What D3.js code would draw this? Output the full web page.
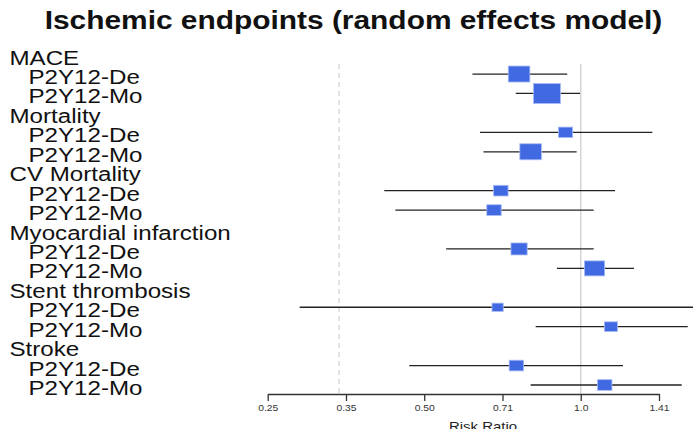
<!DOCTYPE html>
<html>
<head>
<meta charset="utf-8">
<script src="https://cdn.jsdelivr.net/npm/d3@7"></script>
<style>
  body { margin: 0; background: #fff; }
  svg { display: block; font-family: "Liberation Sans", Arial, sans-serif; }
</style>
</head>
<body>
<svg id="plot"></svg>
<script>
// endpoints and arms, in drawing order
const groups = ["MACE", "Mortality", "CV Mortality", "Myocardial infarction", "Stent thrombosis", "Stroke"];
const arms = ["P2Y12-De", "P2Y12-Mo"];

// one value per (group, arm)
const estimate = [0.761, 0.861, 0.935, 0.801, 0.702, 0.681, 0.761, 1.063, 0.692, 1.143, 0.752, 1.112];
const lower    = [0.619, 0.750, 0.640, 0.650, 0.419, 0.440, 0.551, 0.900, 0.288, 0.819, 0.468, 0.801];
const upper    = [0.942, 0.997, 1.373, 0.982, 1.164, 1.059, 1.059, 1.266, 1.900, 1.606, 1.206, 1.564];
const weight   = [16, 20, 10.5, 16, 10.7, 10.7, 12, 15, 8.3, 9.7, 10.7, 10.7];

const tickValues = [0.25, 0.3536, 0.5, 0.7071, 1, 1.4142];
const tickLabels = ["0.25", "0.35", "0.50", "0.71", "1.0", "1.41"];
const refValue = 1;
const dashedValue = 0.343;

const W = 693, H = 429;
const stretch = 1.15; // text in the picture is a bit wide

const svg = d3.select("#plot").attr("width", W).attr("height", H);

// build rows: header, then its arms
const rows = [];
groups.forEach((g, gi) => {
    rows.push({ type: "header", label: g });
    arms.forEach((a, ai) => {
        const k = gi * arms.length + ai;
        rows.push({ type: "arm", label: a, est: estimate[k], lo: lower[k], hi: upper[k], w: weight[k] });
    });
});

const x = d3.scaleLog().base(2).domain([0.25, 1.4142]).range([267.7, 659]);
const y = d3.scaleLinear().domain([0, rows.length - 1]).range([54.6, 385]);
const size = d3.scaleLinear().domain([0, 20]).range([0, 20]);
const axisY = 394;

// title
svg.append("g")
    .attr("transform", `translate(353.5, 29) scale(${stretch},1)`)
    .append("text")
    .attr("text-anchor", "middle")
    .style("font-size", "26px")
    .style("font-weight", "bold")
    .style("fill", "#111")
    .text("Ischemic endpoints (random effects model)");

// reference lines
svg.append("line")
    .attr("x1", x(dashedValue)).attr("x2", x(dashedValue))
    .attr("y1", 64).attr("y2", axisY)
    .attr("stroke", "#d4d4d4").attr("stroke-width", 1.3)
    .attr("stroke-dasharray", "5,4");
svg.append("line")
    .attr("x1", x(refValue)).attr("x2", x(refValue))
    .attr("y1", 64).attr("y2", axisY)
    .attr("stroke", "#d6d6d6").attr("stroke-width", 1.6);

// row labels
rows.forEach((r, i) => {
    svg.append("g")
        .attr("transform", `translate(${r.type === "header" ? 9.5 : 28.5}, ${y(i) + 10}) scale(${stretch},1)`)
        .append("text")
        .style("font-size", "21px")
        .style("fill", "#111")
        .text(r.label);
});

// confidence intervals and boxes
const armRows = rows.map((r, i) => Object.assign({ i }, r)).filter(r => r.type === "arm");

svg.selectAll(".ci")
    .data(armRows)
    .enter().append("line")
    .attr("class", "ci")
    .attr("x1", d => x(d.lo))
    .attr("x2", d => x(d.hi))
    .attr("y1", d => y(d.i))
    .attr("y2", d => y(d.i))
    .attr("stroke", "#222")
    .attr("stroke-width", 1.3);

svg.selectAll(".box")
    .data(armRows)
    .enter().append("rect")
    .attr("class", "box")
    .attr("x", d => x(d.est) - size(d.w) * 1.35 / 2)
    .attr("y", d => y(d.i) - size(d.w) / 2)
    .attr("width", d => size(d.w) * 1.35)
    .attr("height", d => size(d.w))
    .attr("fill", "#4169e1")
    .attr("stroke", "#a9bcf5")
    .attr("stroke-width", 0.8);

// x axis
const xAxis = d3.axisBottom(x)
    .tickValues(tickValues)
    .tickFormat((d, i) => tickLabels[i])
    .tickSize(7)
    .tickSizeOuter(0)
    .tickPadding(3.6);

const ax = svg.append("g")
    .attr("transform", `translate(0, ${axisY})`)
    .call(xAxis);
ax.select(".domain").attr("stroke", "#333").attr("stroke-width", 1.3);
ax.selectAll(".tick line").attr("stroke", "#333").attr("stroke-width", 1.3);
ax.selectAll(".tick text")
    .attr("transform", `scale(${stretch},1)`)
    .style("font-size", "9px")
    .style("fill", "#333")
    .style("font-family", "'Liberation Sans', Arial, sans-serif");

svg.append("g")
    .attr("transform", `translate(483, 431) scale(${stretch},1)`)
    .append("text")
    .attr("text-anchor", "middle")
    .style("font-size", "13px")
    .style("fill", "#222")
    .text("Risk Ratio");
</script>
</body>
</html>
